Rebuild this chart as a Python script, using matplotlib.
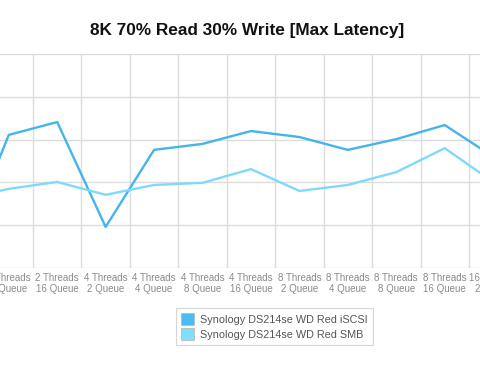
import matplotlib
matplotlib.use("Agg")
import matplotlib.pyplot as plt
from matplotlib.patches import Patch

plt.rcParams['font.family'] = ['Liberation Sans', 'DejaVu Sans']

categories = ["2 Threads\n4 Queue", "2 Threads\n8 Queue", "2 Threads\n16 Queue",
              "4 Threads\n2 Queue", "4 Threads\n4 Queue", "4 Threads\n8 Queue",
              "4 Threads\n16 Queue", "8 Threads\n2 Queue", "8 Threads\n4 Queue",
              "8 Threads\n8 Queue", "8 Threads\n16 Queue", "16 Threads\n2 Queue",
              "16 Threads\n4 Queue"]
iscsi = [28, 311, 341, 96, 276, 290, 320, 306, 276, 301, 334, 260, 270]
smb = [160, 185, 201, 171, 194, 199, 231, 180, 194, 224, 280, 201, 200]
series_names = ["Synology DS214se WD Red iSCSI", "Synology DS214se WD Red SMB"]
title = "8K 70% Read 30% Write [Max Latency]"

W, H = 480, 365
fig = plt.figure(figsize=(W / 100, H / 100), dpi=100)

cat_w = 48.44
c2 = 57.2
left_px = c2 - 2 * cat_w - cat_w / 2
right_px = c2 + (len(categories) - 1 - 2) * cat_w + cat_w / 2
top_px, bot_px = 54, 268
ax = fig.add_axes([left_px / W, (H - bot_px) / H, (right_px - left_px) / W, (bot_px - top_px) / H])

x = list(range(len(categories)))
ax.plot(x, iscsi, color="#45b4ea", lw=1.7, zorder=3)
ax.plot(x, smb, color="#7fd9fc", lw=1.7, zorder=3)

ax.set_xlim(-0.5, len(categories) - 0.5)
ax.set_ylim(0, 500)
ax.set_yticks([0, 100, 200, 300, 400, 500])
ax.set_xticks(x)
ax.set_xticklabels(categories, fontsize=7.0, color="#8a8a8a", linespacing=1.15)
ax.set_xticks([i + 0.5 for i in x[:-1]], minor=True)
ax.tick_params(axis='x', which='both', length=0, pad=3.5)
ax.tick_params(axis='y', length=0, labelleft=False)
ax.grid(False)
ax.grid(True, which='minor', axis='x', color="#dcdcdc", lw=1)
ax.grid(True, which='major', axis='y', color="#dcdcdc", lw=1)
for s in ax.spines.values():
    s.set_visible(False)

fig.text(247 / W, 1 - 30 / H, title, ha='center', va='center', fontsize=12.4, fontweight='bold', color="#111111")

handles = [Patch(facecolor="#4bbcef", edgecolor="#bbbbbb", lw=0.6),
           Patch(facecolor="#80dfff", edgecolor="#bbbbbb", lw=0.6)]
leg = fig.legend(handles, series_names, loc='center', bbox_to_anchor=(274.5 / W, 1 - 326.5 / H),
                 fontsize=7.8, frameon=True, fancybox=False, edgecolor="#cccccc",
                 handlelength=1.2, handleheight=1.2, handletextpad=0.6, borderpad=0.5,
                 labelspacing=0.35, labelcolor="#555555")
leg.get_frame().set_linewidth(0.8)

fig.savefig("out.png", dpi=100)
